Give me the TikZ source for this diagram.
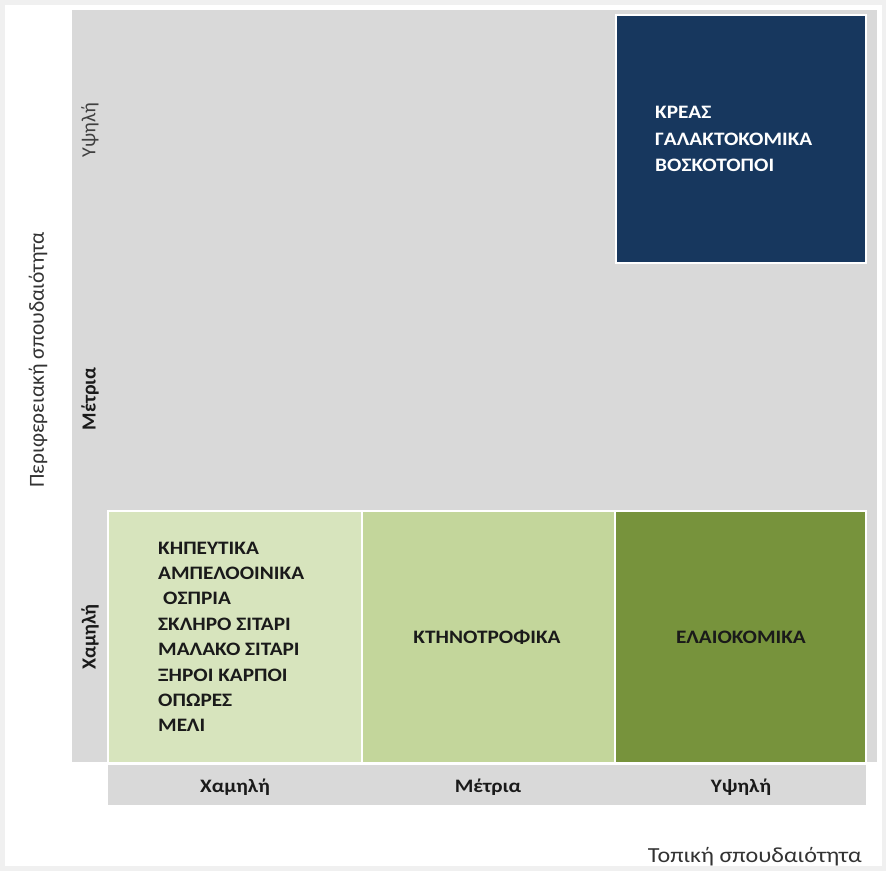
\documentclass[tikz,border=0pt]{standalone}
\usepackage{fontspec}
\setmainfont{Carlito}
\newfontfamily\wide[FakeStretch=1.12]{Carlito}
\definecolor{panel}{HTML}{D9D9D9}
\definecolor{navy}{HTML}{17375E}
\definecolor{gA}{HTML}{D7E4BD}
\definecolor{gB}{HTML}{C3D69B}
\definecolor{gC}{HTML}{77933C}
\definecolor{ink}{HTML}{1A1A1A}
\tikzset{
  box/.style={anchor=north west, inner sep=0pt, outer sep=0pt},
  cellbox/.style={box, draw=white, line width=1.5pt},
  listtext/.style={anchor=base west, inner sep=0pt, text=ink, font=\wide\bfseries\fontsize{19}{23}\selectfont},
  celltext/.style={anchor=base, inner sep=0pt, text=ink, font=\wide\bfseries\fontsize{19}{23}\selectfont},
  navytext/.style={anchor=base west, inner sep=0pt, text=white, font=\wide\bfseries\fontsize{19}{23}\selectfont},
  axlabel/.style={anchor=base, inner sep=0pt, text=ink, font=\wide\bfseries\fontsize{19}{22}\selectfont},
  ylabel/.style={inner sep=0pt, rotate=90, text=ink, font=\bfseries\fontsize{20}{22}\selectfont},
  axtitle/.style={inner sep=0pt, text=black!80, font=\fontsize{21.5}{25}\selectfont}
}
\begin{document}
\begin{tikzpicture}[x=1pt,y=-1pt]
\useasboundingbox (0,0) rectangle (886,870);
\fill[white] (0,0) rectangle (886,870);
\draw[black!6, line width=5pt] (2,2) rectangle (884,868);
% panel
\node[box, fill=panel, minimum width=805pt, minimum height=752pt] (panel) at (72,10) {};
\node[box, fill=panel, minimum width=758pt, minimum height=40pt] (xbar) at (108,765) {};
% cells
\node[cellbox, fill=navy, minimum width=250pt, minimum height=248pt] (high) at (616,15) {};
\node[cellbox, fill=gA, minimum width=254pt, minimum height=252pt] (cA) at (108,511) {};
\node[cellbox, fill=gB, minimum width=253pt, minimum height=252pt] (cB) at (362,511) {};
\node[cellbox, fill=gC, minimum width=251pt, minimum height=252pt] (cC) at (615,511) {};
% list in low-low cell
\foreach \t/\xx [count=\i] in {ΚΗΠΕΥΤΙΚΑ/158, ΑΜΠΕΛΟΟΙΝΙΚΑ/158, ΟΣΠΡΙΑ/163, ΣΚΛΗΡΟ ΣΙΤΑΡΙ/158, ΜΑΛΑΚΟ ΣΙΤΑΡΙ/158, ΞΗΡΟΙ ΚΑΡΠΟΙ/158, ΟΠΩΡΕΣ/158, ΜΕΛΙ/158}
  \node[listtext] (l\i) at (\xx, 554+25.4*\i-25.4) {\t};
\node[celltext] (tB) at (487,643) {ΚΤΗΝΟΤΡΟΦΙΚΑ};
\node[celltext] (tC) at (741,643) {ΕΛΑΙΟΚΟΜΙΚΑ};
\node[navytext] (n1) at (655,118) {ΚΡΕΑΣ};
\node[navytext] (n2) at (655,145) {ΓΑΛΑΚΤΟΚΟΜΙΚΑ};
\node[navytext] (n3) at (655,171) {ΒΟΣΚΟΤΟΠΟΙ};
% x axis labels
\node[axlabel] (xl) at (235,792) {Χαμηλή};
\node[axlabel] (xm) at (488,792) {Μέτρια};
\node[axlabel] (xh) at (741,792) {Υψηλή};
% y axis labels
\node[ylabel, font=\fontsize{20}{22}\selectfont, text=black!75] (yh) at (90,130) {Υψηλή};
\node[ylabel] (ym) at (90,399) {Μέτρια};
\node[ylabel] (yl) at (90,637) {Χαμηλή};
% axis titles
\node[axtitle, font=\wide\fontsize{21.5}{25}\selectfont, anchor=base east] (xt) at (862,862) {Τοπική σπουδαιότητα};
\node[axtitle, rotate=90] (yt) at (38,360) {Περιφερειακή σπουδαιότητα};
\end{tikzpicture}
\end{document}
